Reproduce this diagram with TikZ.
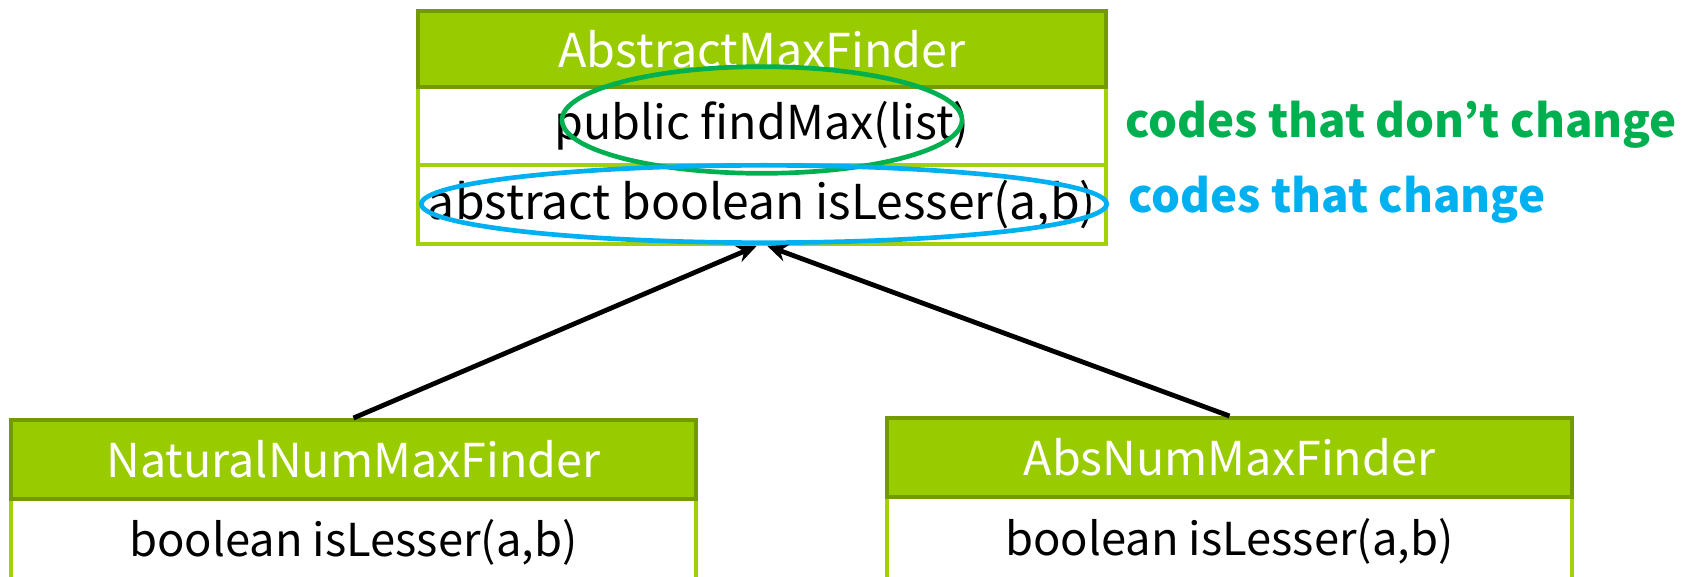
\documentclass[tikz,border=0pt]{standalone}
\usepackage{fontspec}
\setmainfont{Noto Sans CJK KR}
\usetikzlibrary{shapes.geometric,arrows.meta}
\definecolor{hdrfill}{HTML}{99CC00}
\definecolor{hdrline}{HTML}{739A00}
\definecolor{rowline}{HTML}{A2D00A}
\definecolor{keepgreen}{HTML}{00B050}
\definecolor{chgblue}{HTML}{00B0F0}
\tikzset{
  boxfont/.style={font=\fontsize{#1}{#1}\selectfont},
  hdr/.style={draw=hdrline, fill=hdrfill, line width=3pt, text=white, boxfont=35, inner sep=0pt, minimum width=#1},
  row/.style={draw=rowline, fill=white, line width=3pt, text=black, boxfont=35, inner sep=0pt, minimum width=#1},
  inherit/.style={draw=black, line width=3.6pt, -{Stealth[length=15pt,width=13pt]}},
  mark ring/.style={ellipse, draw=#1, line width=3.5pt, inner sep=0pt},
  note/.style={font=\fontsize{34.2}{38}\selectfont\bfseries, anchor=west, inner sep=0pt}
}
\begin{document}
\begin{tikzpicture}[x=0.75pt,y=-0.75pt]
\useasboundingbox (0,0) rectangle (1700,577);
% top class
\node[row=516pt, minimum height=58.5pt] (t1) at (762,126) {public findMax(list)};
\node[row=516pt, minimum height=59.25pt, boxfont=36] (t2) at (762,204.5) {abstract boolean isLesser(a,b)};
\node[hdr=516pt, minimum height=57pt] (th) at (762,49) {AbstractMaxFinder};
% bottom left class
\node[row=513.75pt, minimum height=64.5pt, boxfont=34] (lr) at (353.5,542) {boolean isLesser(a,b)};
\node[hdr=513.75pt, minimum height=59.25pt] (lh) at (353.5,459.5) {NaturalNumMaxFinder};
% bottom right class
\node[row=513.75pt, minimum height=66pt, boxfont=34] (rr) at (1229.5,541) {boolean isLesser(a,b)};
\node[hdr=513.75pt, minimum height=59.25pt] (rh) at (1229.5,457.5) {AbsNumMaxFinder};
% ellipses
\node[mark ring=keepgreen, minimum width=300pt, minimum height=80pt] (ge) at (762,120) {};
\node[mark ring=chgblue, minimum width=514pt, minimum height=58pt] (be) at (764,204) {};
% labels
\node[note, text=keepgreen] (lk) at (1125,125) {codes that don’t change};
\node[note, text=chgblue] (lc) at (1128,200) {codes that change};
% arrows
\draw[inherit] (lh.north) -- ([xshift=-4pt]t2.south);
\draw[inherit] (rh.north) -- ([xshift=4pt]t2.south);
\end{tikzpicture}
\end{document}
